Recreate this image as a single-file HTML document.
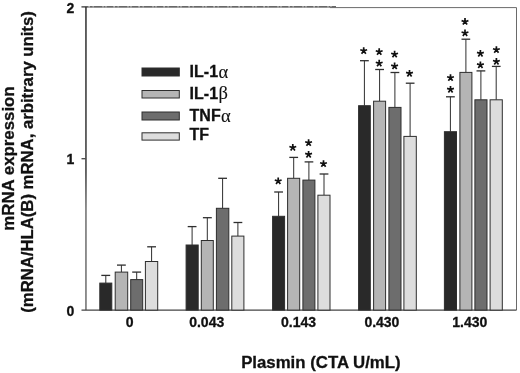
<!DOCTYPE html>
<html><head><meta charset="utf-8"><title>Plasmin mRNA expression</title>
<style>html,body{margin:0;padding:0;background:#fff;}svg{display:block;filter:grayscale(1);}text{font-family:"Liberation Sans", sans-serif;font-weight:bold;fill:#111;stroke:#111;stroke-width:0.3px;}</style></head><body>
<svg width="520" height="373" viewBox="0 0 520 373">
<rect x="0" y="0" width="520" height="373" fill="#ffffff"/>
<g fill="none" stroke-width="1">
<path d="M81.5 7.1 H336" stroke="#8a8a8a"/>
<path d="M81.5 6.8 H336" stroke="#3c3c3c" stroke-dasharray="7 1.2 3 0.8 9 1 2 1"/>
<path d="M330 7.6 H516.5 V310.1" stroke="#6a6a6a"/>
</g>
<g fill="none" stroke="#444" stroke-width="1.3">
<defs><linearGradient id="ax" gradientUnits="userSpaceOnUse" x1="0" y1="0" x2="0" y2="373"><stop offset="0" stop-color="#2e2e2e"/><stop offset="0.46" stop-color="#383838"/><stop offset="0.56" stop-color="#6c6c6c"/><stop offset="1" stop-color="#6c6c6c"/></linearGradient></defs>
<rect x="85.2" y="6.8" width="1.5" height="303.3" fill="url(#ax)" stroke="none"/>
<path d="M81.5 310.1 H516.5"/>
<path d="M81.5 158.7 H85.5"/>
</g>
<g stroke="#2e2e2e" fill="none">
<path d="M105.8 275.4 V283.1" stroke-width="1"/>
<path d="M101.3 275.4 H110.2" stroke-width="1.3"/>
<path d="M121.4 265.1 V272.1" stroke-width="1"/>
<path d="M117.0 265.1 H125.8" stroke-width="1.3"/>
<path d="M136.7 272.1 V279.6" stroke-width="1"/>
<path d="M132.2 272.1 H141.1" stroke-width="1.3"/>
<path d="M151.6 246.8 V261.5" stroke-width="1"/>
<path d="M147.2 246.8 H156.0" stroke-width="1.3"/>
<path d="M192.1 226.6 V245.0" stroke-width="1"/>
<path d="M187.7 226.6 H196.5" stroke-width="1.3"/>
<path d="M207.3 217.7 V240.5" stroke-width="1"/>
<path d="M202.9 217.7 H211.8" stroke-width="1.3"/>
<path d="M222.6 178.3 V208.3" stroke-width="1"/>
<path d="M218.2 178.3 H227.0" stroke-width="1.3"/>
<path d="M237.9 222.5 V236.1" stroke-width="1"/>
<path d="M233.5 222.5 H242.3" stroke-width="1.3"/>
<path d="M278.6 192.0 V216.3" stroke-width="1"/>
<path d="M274.2 192.0 H283.0" stroke-width="1.3"/>
<path d="M293.7 157.4 V178.3" stroke-width="1"/>
<path d="M289.3 157.4 H298.1" stroke-width="1.3"/>
<path d="M308.9 161.9 V180.1" stroke-width="1"/>
<path d="M304.6 161.9 H313.3" stroke-width="1.3"/>
<path d="M324.0 174.0 V195.2" stroke-width="1"/>
<path d="M319.6 174.0 H328.4" stroke-width="1.3"/>
<path d="M364.4 60.7 V105.7" stroke-width="1"/>
<path d="M360.0 60.7 H368.8" stroke-width="1.3"/>
<path d="M379.6 69.5 V101.2" stroke-width="1"/>
<path d="M375.2 69.5 H384.0" stroke-width="1.3"/>
<path d="M394.9 72.5 V107.4" stroke-width="1"/>
<path d="M390.5 72.5 H399.3" stroke-width="1.3"/>
<path d="M410.1 83.2 V136.4" stroke-width="1"/>
<path d="M405.8 83.2 H414.5" stroke-width="1.3"/>
<path d="M450.4 96.8 V131.7" stroke-width="1"/>
<path d="M446.0 96.8 H454.8" stroke-width="1.3"/>
<path d="M465.9 39.2 V72.4" stroke-width="1"/>
<path d="M461.5 39.2 H470.2" stroke-width="1.3"/>
<path d="M480.9 70.9 V99.8" stroke-width="1"/>
<path d="M476.5 70.9 H485.3" stroke-width="1.3"/>
<path d="M496.2 66.4 V99.8" stroke-width="1"/>
<path d="M491.9 66.4 H500.6" stroke-width="1.3"/>
</g>
<g stroke="#2e2e2e" stroke-width="1">
<rect x="99.8" y="283.1" width="12.0" height="27.0" fill="#292929"/>
<rect x="115.2" y="272.1" width="12.5" height="38.0" fill="#b5b5b5"/>
<rect x="130.7" y="279.6" width="12.0" height="30.5" fill="#6d6d6d"/>
<rect x="145.4" y="261.5" width="12.3" height="48.6" fill="#dddddd"/>
<rect x="186.1" y="245.0" width="12.1" height="65.1" fill="#292929"/>
<rect x="201.3" y="240.5" width="12.0" height="69.6" fill="#b5b5b5"/>
<rect x="216.4" y="208.3" width="12.4" height="101.8" fill="#6d6d6d"/>
<rect x="231.8" y="236.1" width="12.1" height="74.0" fill="#dddddd"/>
<rect x="272.6" y="216.3" width="12.0" height="93.8" fill="#292929"/>
<rect x="287.6" y="178.3" width="12.1" height="131.8" fill="#b5b5b5"/>
<rect x="302.9" y="180.1" width="12.0" height="130.0" fill="#6d6d6d"/>
<rect x="317.9" y="195.2" width="12.1" height="114.9" fill="#dddddd"/>
<rect x="358.6" y="105.7" width="11.7" height="204.4" fill="#292929"/>
<rect x="373.6" y="101.2" width="12.0" height="208.9" fill="#b5b5b5"/>
<rect x="388.9" y="107.4" width="12.1" height="202.7" fill="#6d6d6d"/>
<rect x="403.9" y="136.4" width="12.4" height="173.7" fill="#dddddd"/>
<rect x="444.4" y="131.7" width="12.1" height="178.4" fill="#292929"/>
<rect x="459.9" y="72.4" width="12.0" height="237.7" fill="#b5b5b5"/>
<rect x="474.9" y="99.8" width="12.1" height="210.3" fill="#6d6d6d"/>
<rect x="490.1" y="99.8" width="12.2" height="210.3" fill="#dddddd"/>
</g>
<defs><path id="st" d="M0 0L0.00 -3.60M0 0L-3.42 -1.11M0 0L-2.12 2.91M0 0L2.12 2.91M0 0L3.42 -1.11" fill="none" stroke="#111" stroke-width="1.7" stroke-linecap="butt"/></defs>
<use href="#st" x="278.2" y="181.1"/>
<use href="#st" x="292.8" y="147.6"/>
<use href="#st" x="308.6" y="142.9"/>
<use href="#st" x="308.6" y="154.5"/>
<use href="#st" x="323.5" y="163.8"/>
<use href="#st" x="363.7" y="50.8"/>
<use href="#st" x="379.2" y="51.9"/>
<use href="#st" x="379.2" y="63.4"/>
<use href="#st" x="394.6" y="54.4"/>
<use href="#st" x="394.6" y="66.2"/>
<use href="#st" x="409.5" y="73.5"/>
<use href="#st" x="450.5" y="77.8"/>
<use href="#st" x="450.5" y="89.5"/>
<use href="#st" x="465.0" y="21.7"/>
<use href="#st" x="465.0" y="33.1"/>
<use href="#st" x="480.4" y="53.5"/>
<use href="#st" x="480.4" y="65.0"/>
<use href="#st" x="496.4" y="49.8"/>
<use href="#st" x="496.4" y="61.6"/>
<g font-size="14" text-anchor="end">
<text x="74.2" y="12.6">2</text>
<text x="74.2" y="163.8">1</text>
<text x="74.2" y="315.7">0</text>
</g>
<g font-size="14" text-anchor="middle">
<text x="129.6" y="326.5">0</text>
<text x="206.7" y="326.5">0.043</text>
<text x="298.5" y="326.5">0.143</text>
<text x="381.9" y="326.5">0.430</text>
<text x="469.8" y="326.5">1.430</text>
</g>
<text x="320.9" y="367.8" font-size="16.8" text-anchor="middle" stroke="#111" stroke-width="0.25">Plasmin (CTA U/mL)</text>
<text transform="translate(14.1 158.5) rotate(-90) scale(1.066 1)" font-size="15.8" text-anchor="middle" stroke="#111" stroke-width="0.4">mRNA expression</text>
<text transform="translate(33.0 162.0) rotate(-90) scale(1.058 1)" font-size="15.8" text-anchor="middle" stroke="#111" stroke-width="0.4">(mRNA/HLA(B) mRNA, arbitrary units)</text>
<g stroke="#2e2e2e" stroke-width="1">
<rect x="142" y="68.0" width="37.3" height="8.0" fill="#292929"/>
<rect x="142" y="90.5" width="37.3" height="7.5" fill="#b5b5b5"/>
<rect x="142" y="112.0" width="37.3" height="8.0" fill="#6d6d6d"/>
<rect x="142" y="132.8" width="37.3" height="7.3" fill="#dddddd"/>
</g>
<g font-size="16">
<text x="189.6" y="77.4">IL-1<tspan font-family="'Liberation Serif', serif" font-weight="normal" font-size="18.5" stroke-width="0.12" dx="0.4" dy="0.8">α</tspan></text>
<text x="189.6" y="98.6">IL-1<tspan font-family="'Liberation Serif', serif" font-weight="normal" font-size="18.5" stroke-width="0.12" dx="0.4" dy="0">β</tspan></text>
<text x="189.6" y="120.8">TNF<tspan font-family="'Liberation Serif', serif" font-weight="normal" font-size="18.5" stroke-width="0.12" dx="0.4" dy="0.8">α</tspan></text>
<text x="189.6" y="139.7">TF<tspan font-family="'Liberation Serif', serif" font-weight="normal" font-size="18.5" stroke-width="0.12" dx="0.4" dy="0"></tspan></text>
</g>
</svg></body></html>
